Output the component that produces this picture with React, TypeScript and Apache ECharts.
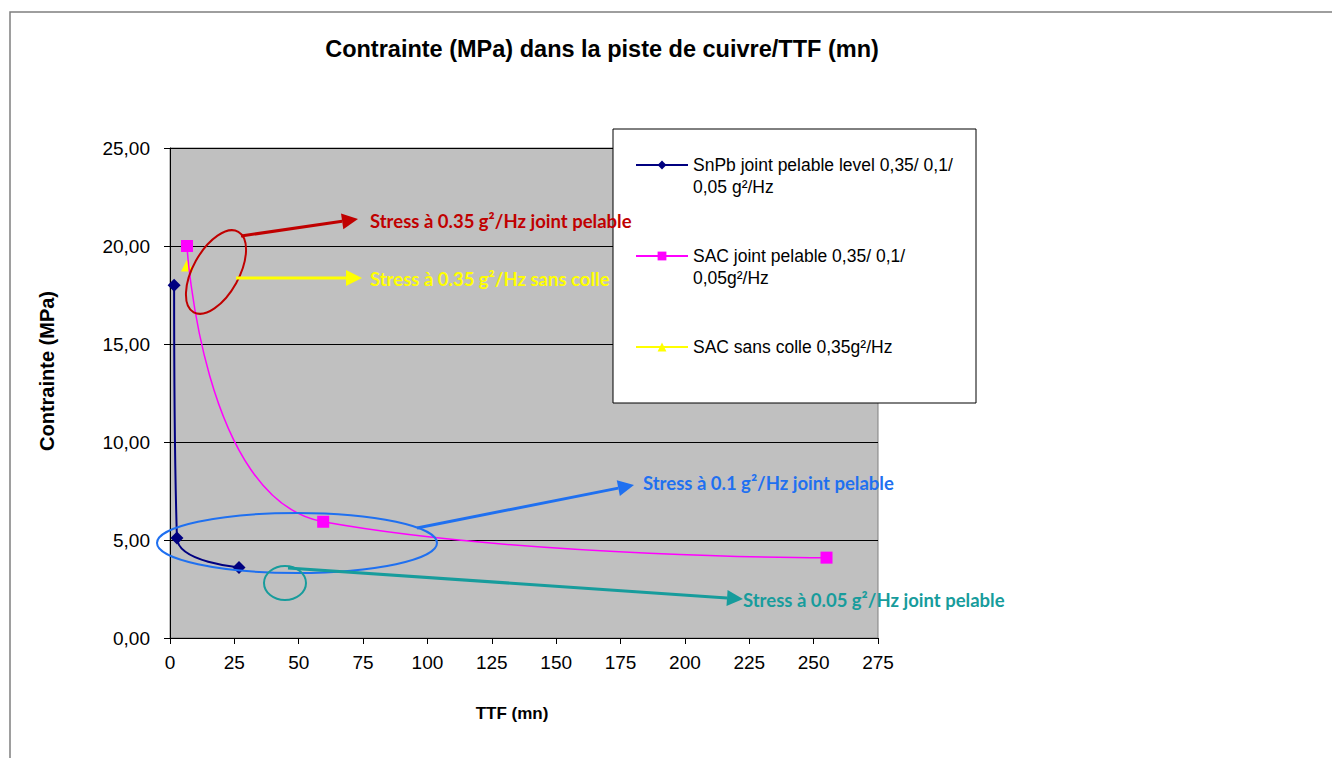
import React, { useEffect, useRef } from "react";
import * as echarts from "echarts";

const snpbData: [number, number][] = [
  [1.6, 18.0],
  [2.7, 5.1],
  [26.8, 3.6],
];
const sacJointData: [number, number][] = [
  [6.6, 20.0],
  [59.5, 5.93],
  [255, 4.1],
];
const sacSansColleData: [number, number][] = [[6.6, 19.0]];

const seriesNames = [
  "SnPb joint pelable level 0,35/ 0,1/\n0,05 g²/Hz",
  "SAC joint pelable 0,35/ 0,1/\n0,05g²/Hz",
  "SAC sans colle 0,35g²/Hz",
];

const annotationTexts = [
  "Stress à 0.35 g²/Hz joint pelable",
  "Stress à 0.35 g²/Hz sans colle",
  "Stress à 0.1 g²/Hz joint pelable",
  "Stress à 0.05 g²/Hz joint pelable",
];

const FONT = "'Liberation Sans', Arial, sans-serif";
const ANNOT_FONT = "Lato, 'Open Sans', sans-serif";

function arrow(x1: number, y1: number, x2: number, y2: number, color: string, w = 3, headLen = 16, headW = 8) {
  const a = Math.atan2(y2 - y1, x2 - x1);
  const bx = x2 - headLen * Math.cos(a);
  const by = y2 - headLen * Math.sin(a);
  const px = -Math.sin(a) * headW;
  const py = Math.cos(a) * headW;
  return [
    {
      type: "line",
      shape: { x1, y1, x2: bx, y2: by },
      style: { stroke: color, lineWidth: w },
      z: 50,
    },
    {
      type: "polygon",
      shape: { points: [[x2, y2], [bx + px, by + py], [bx - px, by - py]] },
      style: { fill: color },
      z: 50,
    },
  ];
}

function annotText(x: number, y: number, text: string, color: string) {
  return {
    type: "text",
    x,
    y,
    z: 50,
    style: {
      text,
      fill: color,
      font: `bold 18.5px ${ANNOT_FONT}`,
      verticalAlign: "middle",
      align: "left",
    },
  };
}

export default function App() {
  const ref = useRef<HTMLDivElement>(null);
  useEffect(() => {
    const chart = echarts.init(ref.current!, null, { renderer: "svg" });
    const red = "#C00000";
    const yellow = "#FFFF00";
    const blue = "#1F70F0";
    const teal = "#179C9C";
    const option: any = {
      animation: false,
      backgroundColor: "#ffffff",
      title: {
        text: "Contrainte (MPa) dans la piste de cuivre/TTF (mn)",
        left: 597,
        top: 32,
        textAlign: "center",
        textStyle: { fontFamily: FONT, fontWeight: "bold", fontSize: 23.5, color: "#000" },
      },
      grid: {
        left: 170,
        top: 148,
        width: 708,
        height: 490,
        show: true,
        backgroundColor: "#C0C0C0",
        borderColor: "#808080",
        borderWidth: 1,
      },
      legend: {
        orient: "vertical",
        left: 635,
        top: 132,
        itemWidth: 52,
        itemHeight: 11,
        itemGap: 25,
        padding: 0,
        selectedMode: false,
        formatter: (name: string) => " \n" + name + (name.indexOf("\n") < 0 ? "\n " : ""),
        textStyle: { fontFamily: FONT, fontSize: 17.5, color: "#000", lineHeight: 22 },
        data: seriesNames,
        z: 20,
      },
      xAxis: {
        type: "value",
        min: 0,
        max: 275,
        interval: 25,
        name: "TTF (mn)",
        nameLocation: "middle",
        nameGap: 67,
        nameTextStyle: { fontFamily: FONT, fontWeight: "bold", fontSize: 17, color: "#000", padding: [0, 24, 0, 0] },
        axisLine: { show: true, onZero: false, lineStyle: { color: "#000", width: 1 } },
        axisTick: { show: true, length: 6, lineStyle: { color: "#000" } },
        axisLabel: { fontFamily: FONT, fontSize: 19, color: "#000", margin: 15 },
        splitLine: { show: false },
      },
      yAxis: {
        type: "value",
        min: 0,
        max: 25,
        interval: 5,
        name: "Contrainte (MPa)",
        nameLocation: "middle",
        nameGap: 113,
        nameRotate: 90,
        nameTextStyle: { fontFamily: FONT, fontWeight: "bold", fontSize: 20, color: "#000", padding: [0, 0, 0, 44] },
        axisLine: { show: true, lineStyle: { color: "#000", width: 1 } },
        axisTick: { show: true, length: 6, lineStyle: { color: "#000" } },
        axisLabel: {
          fontFamily: FONT,
          fontSize: 19,
          color: "#000",
          margin: 20,
          formatter: (v: number) => v.toFixed(2).replace(".", ","),
        },
        splitLine: { show: true, lineStyle: { color: "#000", width: 1 } },
      },
      series: [
        {
          name: seriesNames[0],
          type: "line",
          data: snpbData,
          smooth: 0.4,
          symbol: "diamond",
          symbolSize: 13,
          lineStyle: { color: "#000080", width: 2 },
          itemStyle: { color: "#000080" },
          z: 5,
        },
        {
          name: seriesNames[1],
          type: "line",
          data: sacJointData,
          smooth: 0.5,
          symbol: "rect",
          symbolSize: 12,
          lineStyle: { color: "#FF00FF", width: 1.5 },
          itemStyle: { color: "#FF00FF" },
          z: 4,
        },
        {
          name: seriesNames[2],
          type: "line",
          data: sacSansColleData,
          symbol: "triangle",
          symbolSize: 12,
          lineStyle: { color: "#FFFF00", width: 1.5 },
          itemStyle: { color: "#FFFF00" },
          z: 3,
        },
      ],
      graphic: [
        {
          type: "rect",
          shape: { x: 10, y: 12, width: 1340, height: 760 },
          style: { fill: "none", stroke: "#7f7f7f", lineWidth: 1.5 },
          z: 0,
          silent: true,
        },
        {
          type: "rect",
          shape: { x: 613, y: 129, width: 363, height: 274 },
          style: { fill: "#ffffff", stroke: "#000", lineWidth: 1 },
          z: 10,
          silent: true,
        },
        {
          type: "ellipse",
          x: 216,
          y: 272,
          rotation: (61 * Math.PI) / 180,
          shape: { cx: 0, cy: 0, rx: 46, ry: 23 },
          style: { fill: "none", stroke: red, lineWidth: 2 },
          z: 50,
        },
        ...arrow(241, 236, 358, 219, red),
        annotText(370, 221, annotationTexts[0], red),
        ...arrow(236, 278, 362, 278, yellow),
        annotText(370, 279, annotationTexts[1], yellow),
        {
          type: "ellipse",
          shape: { cx: 297, cy: 543, rx: 140, ry: 30 },
          style: { fill: "none", stroke: blue, lineWidth: 2 },
          z: 50,
        },
        ...arrow(417, 528, 634, 485, blue),
        annotText(643, 483, annotationTexts[2], blue),
        {
          type: "ellipse",
          shape: { cx: 285, cy: 583, rx: 21, ry: 17 },
          style: { fill: "none", stroke: teal, lineWidth: 2 },
          z: 50,
        },
        ...arrow(288, 568, 743, 599, teal),
        annotText(743, 600, annotationTexts[3], teal),
      ],
    };
    chart.setOption(option);
    return () => chart.dispose();
  }, []);
  return (
    <div
      ref={ref}
      style={{ position: "fixed", left: 0, top: 0, width: 1332, height: 758 }}
    />
  );
}
